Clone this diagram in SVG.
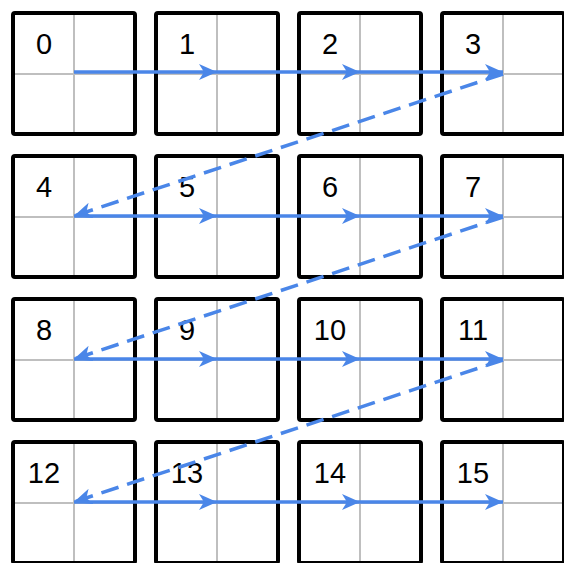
<svg xmlns="http://www.w3.org/2000/svg" width="564" height="563" viewBox="0 0 564 563">
<style>
.box{fill:#ffffff;stroke:#000000;stroke-width:4;}
.grid{stroke:#bfbfbf;stroke-width:2;fill:none;}
.lbl{font-family:"Liberation Sans","DejaVu Sans",sans-serif;font-size:29px;fill:#000000;text-anchor:middle;}
.arr{stroke:#4a86e8;stroke-width:3.5;fill:none;marker-end:url(#ah);}
.dash{stroke-dasharray:18 9;}
</style>
<defs>
<marker id="ah" viewBox="0 0 18 16" refX="18" refY="8" markerWidth="18" markerHeight="16" markerUnits="userSpaceOnUse" orient="auto">
<path d="M0,0 L18,8 L0,16 L5,8 Z" fill="#4a86e8"/>
</marker>
<g id="cell">
<rect class="box" x="-61" y="-61" width="122" height="121" rx="2"/>
<line class="grid" x1="0" y1="-59" x2="0" y2="58"/>
<line class="grid" x1="-59" y1="0" x2="59" y2="0"/>
</g>
</defs>
<g id="n0"><use href="#cell" x="74" y="74"/><text class="lbl" x="44" y="54">0</text></g>
<g id="n1"><use href="#cell" x="217" y="74"/><text class="lbl" x="187" y="54">1</text></g>
<g id="n2"><use href="#cell" x="360" y="74"/><text class="lbl" x="330" y="54">2</text></g>
<g id="n3"><use href="#cell" x="503" y="74"/><text class="lbl" x="473" y="54">3</text></g>
<g id="n4"><use href="#cell" x="74" y="217"/><text class="lbl" x="44" y="197">4</text></g>
<g id="n5"><use href="#cell" x="217" y="217"/><text class="lbl" x="187" y="197">5</text></g>
<g id="n6"><use href="#cell" x="360" y="217"/><text class="lbl" x="330" y="197">6</text></g>
<g id="n7"><use href="#cell" x="503" y="217"/><text class="lbl" x="473" y="197">7</text></g>
<g id="n8"><use href="#cell" x="74" y="360"/><text class="lbl" x="44" y="340">8</text></g>
<g id="n9"><use href="#cell" x="217" y="360"/><text class="lbl" x="187" y="340">9</text></g>
<g id="n10"><use href="#cell" x="360" y="360"/><text class="lbl" x="330" y="340">10</text></g>
<g id="n11"><use href="#cell" x="503" y="360"/><text class="lbl" x="473" y="340">11</text></g>
<g id="n12"><use href="#cell" x="74" y="503"/><text class="lbl" x="44" y="483">12</text></g>
<g id="n13"><use href="#cell" x="217" y="503"/><text class="lbl" x="187" y="483">13</text></g>
<g id="n14"><use href="#cell" x="360" y="503"/><text class="lbl" x="330" y="483">14</text></g>
<g id="n15"><use href="#cell" x="503" y="503"/><text class="lbl" x="473" y="483">15</text></g>
<g id="connectors">
<line class="arr" x1="74" y1="72" x2="217" y2="72"/>
<line class="arr" x1="217" y1="72" x2="360" y2="72"/>
<line class="arr" x1="360" y1="72" x2="503" y2="72"/>
<line class="arr dash" x1="503" y1="74" x2="74" y2="216"/>
<line class="arr" x1="74" y1="216" x2="217" y2="216"/>
<line class="arr" x1="217" y1="216" x2="360" y2="216"/>
<line class="arr" x1="360" y1="216" x2="503" y2="216"/>
<line class="arr dash" x1="503" y1="217" x2="74" y2="359"/>
<line class="arr" x1="74" y1="359" x2="217" y2="359"/>
<line class="arr" x1="217" y1="359" x2="360" y2="359"/>
<line class="arr" x1="360" y1="359" x2="503" y2="359"/>
<line class="arr dash" x1="503" y1="360" x2="74" y2="502"/>
<line class="arr" x1="74" y1="502" x2="217" y2="502"/>
<line class="arr" x1="217" y1="502" x2="360" y2="502"/>
<line class="arr" x1="360" y1="502" x2="503" y2="502"/>
</g>
</svg>
